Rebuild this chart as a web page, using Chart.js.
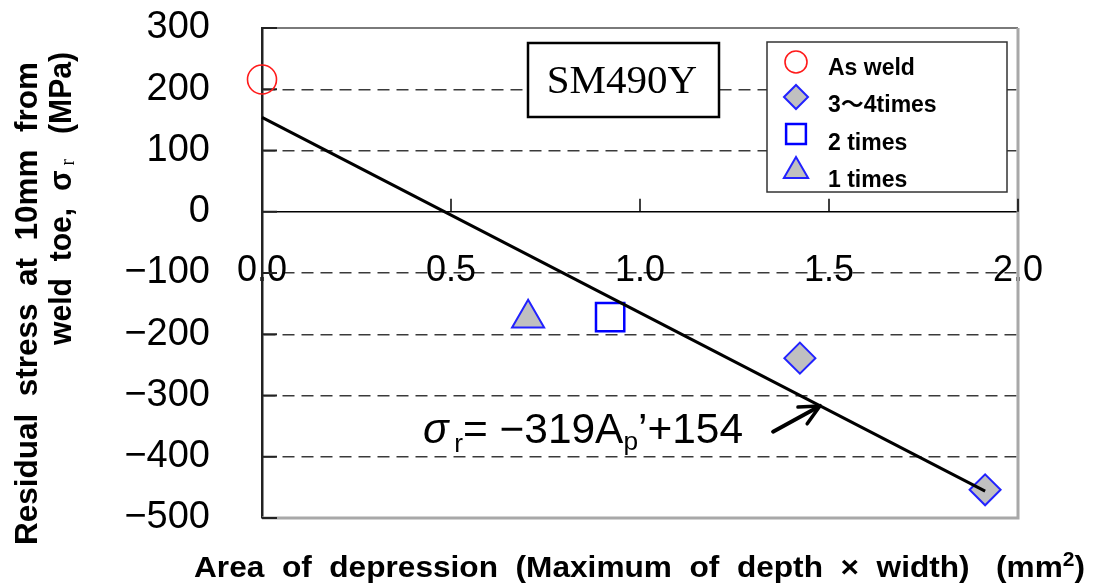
<!DOCTYPE html>
<html>
<head>
<meta charset="utf-8">
<script src="https://cdn.jsdelivr.net/npm/chart.js@4.4.1/dist/chart.umd.min.js"></script>
<style>
  html, body { margin: 0; padding: 0; background: #fff; }
  #wrap { width: 1094px; height: 586px; }
</style>
</head>
<body>
<div id="wrap"><canvas id="chart" width="1094" height="586"></canvas></div>
<script>
// ---- data ----
const xTicks = [0.0, 0.5, 1.0, 1.5, 2.0];
const yTicks = [300, 200, 100, 0, -100, -200, -300, -400, -500];
const seriesNames = ['As weld', '3\u301C4times', '2 times', '1 times'];

const asWeldX = [0.0];
const asWeldY = [216];
const times34X = [1.423, 1.913];
const times34Y = [-239, -454];
const times2X = [0.921];
const times2Y = [-172];
const times1X = [0.704];
const times1Y = [-174];

// regression sigma_r = -319 Ap' + 154, drawn between its two end points
const fitX = [0.0, 1.913];
const fitY = [154, -456];

// arrow pointing from the equation to the regression line (data units)
const arrowFrom = [1.352, -359];
const arrowTo = [1.476, -317];

const pts = (xs, ys) => xs.map((x, i) => ({ x: x, y: ys[i] }));

const SANS = '"Liberation Sans", Arial, "Noto Sans CJK JP", sans-serif';
const SERIF = '"Liberation Serif", "Times New Roman", serif';

// draws a run of text pieces (each with its own font / vertical offset), stretched to a given length
function drawRuns(ctx, runs, x, y, length) {
  let total = 0;
  runs.forEach(r => { ctx.font = r.font; r.w = ctx.measureText(r.t).width; total += r.w; });
  ctx.save();
  ctx.translate(x, y);
  ctx.scale(length / total, 1);
  let cx = 0;
  runs.forEach(r => {
    ctx.font = r.font;
    ctx.fillText(r.t, cx, r.dy || 0);
    cx += r.w;
  });
  ctx.restore();
}

function drawMarker(ctx, ds, x, y, radius) {
  ctx.save();
  ctx.fillStyle = ds.backgroundColor;
  ctx.strokeStyle = ds.borderColor;
  ctx.lineWidth = ds.borderWidth;
  Chart.helpers.drawPoint(ctx, { pointStyle: ds.pointStyle, radius: radius, borderWidth: ds.borderWidth, rotation: 0 }, x, y);
  ctx.restore();
}

const decorations = {
  id: 'decorations',
  beforeDatasetsDraw(chart) {
    const { ctx, chartArea: ca, scales } = chart;
    const xs = scales.x, ys = scales.y;
    ctx.save();
    // plot frame (top, right, bottom)
    ctx.strokeStyle = '#7a7a7a';
    ctx.lineWidth = 2;
    ctx.beginPath();
    ctx.moveTo(ca.left, ca.top); ctx.lineTo(ca.right, ca.top);
    ctx.stroke();
    ctx.strokeStyle = '#a8a8a8';
    ctx.lineWidth = 3;
    ctx.beginPath();
    ctx.moveTo(ca.right, ca.top); ctx.lineTo(ca.right, ca.bottom); ctx.lineTo(ca.left, ca.bottom);
    ctx.stroke();
    // inward tick marks on the stress axis
    ctx.strokeStyle = '#222';
    ctx.lineWidth = 2;
    ys.ticks.forEach(t => {
      const py = ys.getPixelForValue(t.value);
      ctx.beginPath(); ctx.moveTo(ca.left, py); ctx.lineTo(ca.left + 15, py); ctx.stroke();
    });
    // upward tick marks on the zero line
    const y0 = ys.getPixelForValue(0);
    ctx.strokeStyle = '#000';
    ctx.lineWidth = 1.5;
    xs.ticks.forEach(t => {
      if (t.value === 0) return;
      const px = xs.getPixelForValue(t.value);
      ctx.beginPath(); ctx.moveTo(px, y0); ctx.lineTo(px, y0 - 13); ctx.stroke();
    });
    ctx.restore();
  },
  afterDatasetsDraw(chart) {
    const { ctx, chartArea: ca, scales } = chart;
    const xs = scales.x, ys = scales.y;
    ctx.save();

    // material label box
    ctx.fillStyle = '#fff';
    ctx.fillRect(528, 43, 191, 74);
    ctx.strokeStyle = '#000';
    ctx.lineWidth = 2.5;
    ctx.strokeRect(528, 43, 191, 74);
    ctx.fillStyle = '#000';
    ctx.font = '41px ' + SERIF;
    ctx.textAlign = 'center';
    ctx.textBaseline = 'alphabetic';
    ctx.fillText('SM490Y', 622, 93);

    // legend
    ctx.fillStyle = '#fff';
    ctx.fillRect(767, 42, 240, 150);
    ctx.strokeStyle = '#333';
    ctx.lineWidth = 1.5;
    ctx.strokeRect(767, 42, 240, 150);
    const rows = [
      { my: 62, ty: 75, r: 11 },
      { my: 97, ty: 112, r: 12 },
      { my: 134, ty: 150, r: 14 },
      { my: 171, ty: 187, r: 14 }
    ];
    const legendSets = chart.data.datasets.filter(d => seriesNames.includes(d.label));
    legendSets.forEach((ds, i) => {
      drawMarker(ctx, ds, 796, rows[i].my, rows[i].r);
      ctx.fillStyle = '#000';
      ctx.font = 'bold 23px ' + SANS;
      ctx.textAlign = 'left';
      ctx.fillText(ds.label, 828, rows[i].ty);
    });

    // regression equation
    ctx.fillStyle = '#000';
    ctx.textAlign = 'left';
    drawRuns(ctx, [
      { t: '\u03C3', font: 'italic 42px ' + SANS },
      { t: ' ', font: '20px ' + SANS },
      { t: 'r', font: '26px ' + SANS, dy: 9 },
      { t: '= \u2212319A', font: '42px ' + SANS },
      { t: 'p', font: '26px ' + SANS, dy: 7 },
      { t: '\u2019+154', font: '42px ' + SANS }
    ], 423, 443, 320);

    // arrow
    const ax0 = xs.getPixelForValue(arrowFrom[0]), ay0 = ys.getPixelForValue(arrowFrom[1]);
    const ax1 = xs.getPixelForValue(arrowTo[0]), ay1 = ys.getPixelForValue(arrowTo[1]);
    const ang = Math.atan2(ay1 - ay0, ax1 - ax0);
    ctx.strokeStyle = '#000';
    ctx.lineWidth = 4;
    ctx.lineCap = 'round';
    ctx.beginPath(); ctx.moveTo(ax0, ay0); ctx.lineTo(ax1, ay1); ctx.stroke();
    ctx.lineWidth = 3.5;
    [0.45, -0.45].forEach(d => {
      ctx.beginPath();
      ctx.moveTo(ax1, ay1);
      ctx.lineTo(ax1 - 22 * Math.cos(ang + d), ay1 - 22 * Math.sin(ang + d));
      ctx.stroke();
    });

    // stress axis title (two rotated lines)
    ctx.fillStyle = '#000';
    ctx.save();
    ctx.translate(37, 545);
    ctx.rotate(-Math.PI / 2);
    drawRuns(ctx, [{ t: 'Residual  stress  at  10mm  from', font: 'bold 31px ' + SANS }], 0, 0, 483);
    ctx.restore();
    ctx.save();
    ctx.translate(71, 345);
    ctx.rotate(-Math.PI / 2);
    drawRuns(ctx, [
      { t: 'weld  toe,  \u03C3', font: 'bold 31px ' + SANS },
      { t: ' r', font: '20px ' + SERIF, dy: 3 },
      { t: '   (MPa)', font: 'bold 31px ' + SANS }
    ], 0, 0, 293);
    ctx.restore();

    // area axis title
    drawRuns(ctx, [
      { t: 'Area  of  depression  (Maximum  of  depth  \u00D7  width)   (mm', font: 'bold 30px ' + SANS },
      { t: '2', font: 'bold 20px ' + SANS, dy: -11 },
      { t: ')', font: 'bold 30px ' + SANS }
    ], 194, 577, 891);

    ctx.restore();
  }
};

const hidden = 'rgba(0,0,0,0)';

new Chart(document.getElementById('chart'), {
  type: 'scatter',
  data: {
    datasets: [
      {
        label: 'fit', type: 'line', data: pts(fitX, fitY), order: 0,
        borderColor: '#000', borderWidth: 3, pointRadius: 0, showLine: true, fill: false, clip: false
      },
      {
        label: seriesNames[0], data: pts(asWeldX, asWeldY), order: 1, clip: false,
        pointStyle: 'circle', pointRadius: 14.5, borderWidth: 1.6,
        borderColor: '#ff1a1a', backgroundColor: hidden
      },
      {
        label: seriesNames[1], data: pts(times34X, times34Y), order: 1, clip: false,
        pointStyle: 'rectRot', pointRadius: 15.5, borderWidth: 2,
        borderColor: '#2222ff', backgroundColor: '#c0c0c0'
      },
      {
        label: seriesNames[2], data: pts(times2X, times2Y), order: 1, clip: false,
        pointStyle: 'rect', pointRadius: 20, borderWidth: 2.5,
        borderColor: '#0000ff', backgroundColor: hidden
      },
      {
        label: seriesNames[3], data: pts(times1X, times1Y), order: 1, clip: false,
        pointStyle: 'triangle', pointRadius: 18.5, borderWidth: 2,
        borderColor: '#2222ff', backgroundColor: '#c0c0c0'
      }
    ]
  },
  options: {
    responsive: false,
    animation: false,
    devicePixelRatio: 1,
    layout: { padding: { left: 0, top: 28, right: 76, bottom: 68 } },
    plugins: { legend: { display: false }, tooltip: { enabled: false }, title: { display: false } },
    scales: {
      x: {
        type: 'linear', position: { y: 0 }, min: 0, max: 2,
        afterBuildTicks: s => { s.ticks = xTicks.map(v => ({ value: v })); },
        grid: { display: true, drawOnChartArea: false, drawTicks: false },
        border: { display: true, color: '#000', width: 1.5 },
        ticks: {
          color: '#000', padding: 38, autoSkip: false, maxRotation: 0,
          font: { family: SANS, size: 36 },
          callback: v => Number(v).toFixed(1)
        },
        afterFit: s => { s.paddingTop = 0; s.paddingBottom = 0; }
      },
      y: {
        type: 'linear', position: 'left', min: -500, max: 300,
        afterBuildTicks: s => { s.ticks = yTicks.map(v => ({ value: v })); },
        grid: {
          drawTicks: false, lineWidth: 1.5,
          color: c => (c.tick && (c.tick.value === 0 || c.tick.value === 300 || c.tick.value === -500)) ? hidden : '#3a3a3a'
        },
        border: { display: true, color: '#222', width: 2.5, dash: [12, 7] },
        ticks: {
          color: '#000', padding: 52,
          font: { family: SANS, size: 38 },
          callback: v => (v < 0 ? '\u2212' + Math.abs(v) : String(v))
        },
        afterFit: s => { s.width = 262; s.paddingTop = 0; s.paddingBottom = 0; }
      }
    }
  },
  plugins: [decorations]
});
</script>
</body>
</html>
